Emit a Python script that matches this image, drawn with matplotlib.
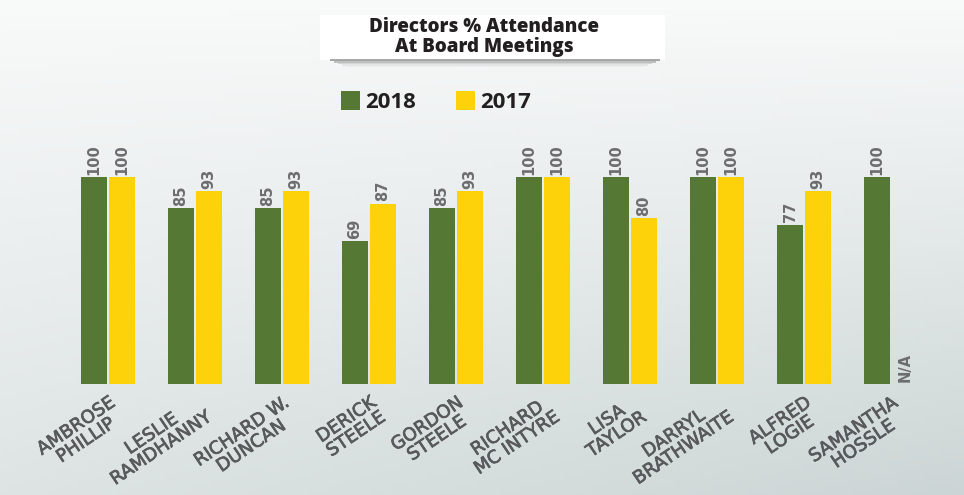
import numpy as np
import matplotlib
matplotlib.use("Agg")
import matplotlib.pyplot as plt
import matplotlib.patheffects as pe
from matplotlib.patches import Rectangle

names = ["AMBROSE\nPHILLIP", "LESLIE\nRAMDHANNY", "RICHARD W.\nDUNCAN", "DERICK\nSTEELE",
         "GORDON\nSTEELE", "RICHARD\nMC INTYRE", "LISA\nTAYLOR", "DARRYL\nBRATHWAITE",
         "ALFRED\nLOGIE", "SAMANTHA\nHOSSLE"]
att_2018 = [100, 85, 85, 69, 85, 100, 100, 100, 77, 100]
att_2017 = [100, 93, 93, 87, 93, 100, 80, 100, 93, None]

green = "#557935"
yellow = "#fdd20b"
label_gray = "#6b6d6e"
font = "Open Sans"
font2 = "DejaVu Sans"

W, H = 964, 495
fig = plt.figure(figsize=(W / 100, H / 100), dpi=100)

# background gradient
bg = fig.add_axes([0, 0, 1, 1], zorder=-5)
xx, yy = np.meshgrid(np.linspace(0, 1, 200), np.linspace(0, 1, 100))
t = 0.6 * yy + 0.4 * xx * yy
top = np.array([0.975, 0.98, 0.98])
bot = np.array([0.80, 0.835, 0.835])
img = top[None, None, :] * (1 - t[..., None]) + bot[None, None, :] * t[..., None]
bg.imshow(img, aspect="auto", extent=[0, 1, 0, 1], origin="upper")
bg.set_xlim(0, 1)
bg.set_ylim(0, 1)
bg.axis("off")


def fx(px):
    return px / W


def fy(py):
    return 1 - py / H


# title box with a soft shadow underneath
bg.add_patch(Rectangle((fx(320), fy(60)), fx(345), 45 / H, color="white", lw=0, zorder=2))
for i, a in enumerate([0.45, 0.3, 0.18, 0.09, 0.04]):
    bg.add_patch(Rectangle((fx(330 + i * 4), fy(61 + i * 1.6)), fx(330 - i * 8), 1.6 / H,
                           color="#444444", alpha=a, lw=0, zorder=2))
fig.text(fx(484), fy(37), "Directors % Attendance\nAt Board Meetings", ha="center", va="center",
         fontsize=13.5, fontweight=800, family=font, color="#231f20", linespacing=1.0)

# legend
bg.add_patch(Rectangle((fx(341), fy(110)), fx(19), 19 / H, color=green, lw=0))
bg.add_patch(Rectangle((fx(456), fy(110)), fx(19), 19 / H, color=yellow, lw=0))
fig.text(fx(365), fy(102), "2018", ha="left", va="center", fontsize=16,
         fontweight="bold", family=font, color="#231f20")
fig.text(fx(480), fy(102), "2017", ha="left", va="center", fontsize=16,
         fontweight="bold", family=font, color="#231f20")

# bars
ax = fig.add_axes([0, (H - 384) / H, 1, 207 / H])
ax.patch.set_alpha(0)
x = np.arange(len(names))
bw = 26 / 87
off = 14 / 87
v17 = [v if v is not None else 0 for v in att_2017]
ax.bar(x - off, att_2018, width=bw, color=green)
ax.bar(x + off, v17, width=bw, color=yellow)
for i in range(len(names)):
    ax.text(x[i] - off, att_2018[i] + 1.2, str(att_2018[i]), rotation=90, ha="center", va="bottom",
            fontsize=10.5, fontweight="bold", family=font2, color=label_gray)
    if att_2017[i] is None:
        ax.text(x[i] + off, 1, "N/A", rotation=90, ha="center", va="bottom",
                fontsize=10.5, fontweight="bold", family=font2, color=label_gray)
    else:
        ax.text(x[i] + off, att_2017[i] + 1.2, str(att_2017[i]), rotation=90, ha="center",
                va="bottom", fontsize=10.5, fontweight="bold", family=font2, color=label_gray)

ax.set_xlim(-108 / 87, (W - 108) / 87)
ax.set_ylim(0, 100)
ax.set_xticks(x)
ax.set_xticklabels(names, rotation=34, ha="right", rotation_mode="anchor", multialignment="center",
                   fontsize=13, fontweight="normal", family=font2, color="#57595b",
                   linespacing=0.95)
for lbl in ax.get_xticklabels():
    lbl.set_path_effects([pe.withStroke(linewidth=0.5, foreground="#57595b")])
ax.tick_params(axis="x", length=0, pad=7)
ax.set_yticks([])
for s in ax.spines.values():
    s.set_visible(False)

fig.savefig("out.png", dpi=100)
